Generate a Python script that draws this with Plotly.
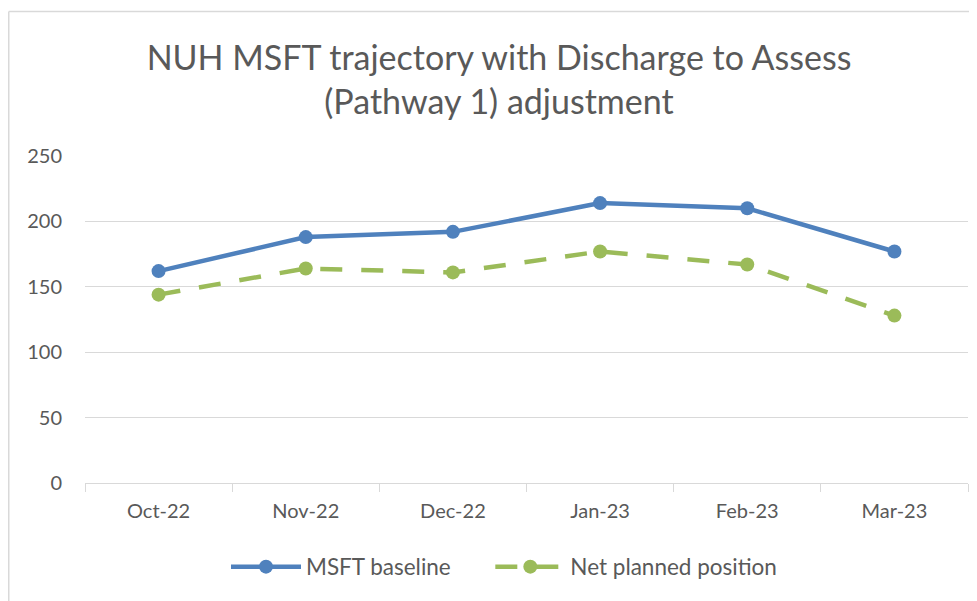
import plotly.graph_objects as go

categories = ["Oct-22", "Nov-22", "Dec-22", "Jan-23", "Feb-23", "Mar-23"]
msft_baseline = [162, 188, 192, 214, 210, 177]
net_planned = [144, 164, 161, 177, 167, 128]
y_ticks = [0, 50, 100, 150, 200, 250]

# page has an 8px body margin, so the figure is drawn offset by (8, 8)
W, H = 969, 593
L, R, T, B = 77, 9, 148, 118
PW, PH = W - L - R, H - T - B

fig = go.Figure()
fig.add_trace(go.Scatter(
    x=categories, y=msft_baseline, name="MSFT baseline", mode="lines+markers",
    line=dict(color="#4F81BD", width=4.5),
    marker=dict(size=14, color="#4F81BD"),
))
fig.add_trace(go.Scatter(
    x=categories, y=net_planned, name="Net planned position", mode="lines+markers",
    line=dict(color="#9BBB59", width=4.5, dash="22px,19px"),
    marker=dict(size=14, color="#9BBB59"),
))

font_fam = "Lato, 'Open Sans', sans-serif"
bx = -(L - 0.75) / PW
by = 1 + (T - 3.5) / PH
fig.update_layout(
    width=W, height=H,
    margin=dict(l=L, r=R, t=T, b=B),
    paper_bgcolor="white", plot_bgcolor="white",
    title=dict(
        text="NUH MSFT trajectory with Discharge to Assess<br>(Pathway 1) adjustment",
        x=(499 - 8) / W, xanchor="center", y=1 - 61.5 / H, yanchor="middle",
        font=dict(family=font_fam, size=34, color="#595959"),
    ),
    font=dict(family=font_fam, size=20, color="#595959"),
    showlegend=True,
    legend=dict(
        orientation="h", x=(226 - 8 - L) / PW, xanchor="left",
        y=-(559 - (H - B)) / PH, yanchor="middle",
        font=dict(size=22.5, color="#595959"), itemwidth=70,
        traceorder="normal",
    ),
    xaxis=dict(
        type="category", showgrid=False, showline=True, linecolor="#d9d9d9", linewidth=1,
        ticks="outside", ticklen=8, tickcolor="#d9d9d9", tickson="boundaries",
        tickfont=dict(size=20, color="#595959"), ticklabelstandoff=10,
        range=[-0.5, 5.5],
    ),
    yaxis=dict(
        range=[0, 250], tickvals=y_ticks, showgrid=True, gridcolor="#d9d9d9", gridwidth=1,
        zeroline=False, showline=False, ticks="", ticklabelstandoff=22,
        tickfont=dict(size=20, color="#595959"),
    ),
    shapes=[
        dict(type="line", xref="paper", yref="paper", x0=bx, x1=1.2, y0=by, y1=by,
             line=dict(color="#d9d9d9", width=1.5)),
        dict(type="line", xref="paper", yref="paper", x0=bx, x1=bx, y0=by, y1=-0.6,
             line=dict(color="#d9d9d9", width=1.5)),
    ],
)

fig.data[0].name = "MSFT baseline" + "\u00a0" * 6

fig.write_html("out.html")
